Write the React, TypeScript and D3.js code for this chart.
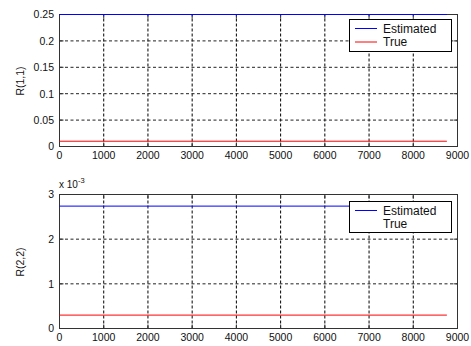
import React from "react";
import * as d3 from "d3";

const hours = [0, 8760];
const r11Estimated = [0.25, 0.25];
const r11True = [0.01, 0.01];
const r22Estimated = [2.74e-3, 2.74e-3];
const r22True = [0.3e-3, 0.3e-3];
const xTicks = [0, 1000, 2000, 3000, 4000, 5000, 6000, 7000, 8000, 9000];
const r11Ticks = [0, 0.05, 0.1, 0.15, 0.2, 0.25];
const r11TickLabels = ["0", "0.05", "0.1", "0.15", "0.2", "0.25"];
const r22Ticks = [0, 1e-3, 2e-3, 3e-3];
const r22TickLabels = ["0", "1", "2", "3"];
const legendLabels = ["Estimated", "True"];

const FONT = "'Liberation Sans', Arial, Helvetica, sans-serif";

type PanelProps = {
  top: number;
  bottom: number;
  yMax: number;
  yTicks: number[];
  yTickLabels: string[];
  est: number[];
  tru: number[];
  ylabel: string;
  legendY: number;
  showTrueSample: boolean;
  exponent?: boolean;
};

function Panel(p: PanelProps) {
  const x = d3.scaleLinear().domain([0, 9000]).range([59.5, 457.5]);
  const y = d3.scaleLinear().domain([0, p.yMax]).range([p.bottom + 0.5, p.top + 0.5]);
  const line = d3
    .line<number>()
    .x((_, i) => x(hours[i]))
    .y((v) => y(v));
  const x0 = x(0), x1 = x(9000), y0 = y(0), y1 = y(p.yMax);
  const lx = 349.5, lw = 102, lh = p.showTrueSample ? 32 : 31;
  const ly = p.legendY + 0.5;
  return (
    <g>
      {/* grid */}
      {xTicks.slice(1, -1).map((t) => (
        <line key={"gx" + t} x1={x(t)} x2={x(t)} y1={y0} y2={y1} stroke="#000" strokeWidth={1} strokeDasharray="3,2" />
      ))}
      {p.yTicks.slice(1, -1).map((t) => (
        <line key={"gy" + t} x1={x0} x2={x1} y1={y(t)} y2={y(t)} stroke="#222" strokeWidth={1} strokeDasharray="3,2.5" />
      ))}
      {/* frame */}
      <rect x={x0} y={y1} width={x1 - x0} height={y0 - y1} fill="none" stroke="#333" strokeWidth={1} />
      {/* ticks */}
      {xTicks.map((t) => (
        <g key={"tx" + t}>
          <line x1={x(t)} x2={x(t)} y1={y0} y2={y0 - 4} stroke="#333" />
          <line x1={x(t)} x2={x(t)} y1={y1} y2={y1 + 4} stroke="#333" />
          <text x={x(t)} y={p.bottom + 13} textAnchor="middle" fontSize={10.5} fontFamily={FONT} fill="#111">
            {t}
          </text>
        </g>
      ))}
      {p.yTicks.map((t, i) => (
        <g key={"ty" + t}>
          <line x1={x0} x2={x0 + 4} y1={y(t)} y2={y(t)} stroke="#333" />
          <line x1={x1} x2={x1 - 4} y1={y(t)} y2={y(t)} stroke="#333" />
          <text x={54} y={y(t) + 3.8} textAnchor="end" fontSize={10.5} fontFamily={FONT} fill="#111">
            {p.yTickLabels[i]}
          </text>
        </g>
      ))}
      {/* series */}
      <path d={line(p.est) || ""} fill="none" stroke="#0000ff" strokeWidth={1} />
      <path d={line(p.tru) || ""} fill="none" stroke="#ff0000" strokeWidth={1} />
      {/* y label */}
      <text
        transform={`translate(23.5,${(p.top + p.bottom) / 2 + 1}) rotate(-90)`}
        textAnchor="middle"
        fontSize={10.5}
        fontFamily={FONT}
        fill="#111"
      >
        {p.ylabel}
      </text>
      {p.exponent && (
        <text x={59} y={p.top - 6} fontSize={10} fontFamily={FONT} fill="#111">
          x 10
          <tspan dy={-5} fontSize={7.5}>-3</tspan>
        </text>
      )}
      {/* legend */}
      <rect x={lx} y={ly} width={lw} height={lh} fill="#fff" stroke="#000" strokeWidth={1} />
      <line x1={355} x2={377} y1={ly + 9} y2={ly + 9} stroke="#0000ff" />
      <text x={383} y={ly + (p.showTrueSample ? 13 : 13)} fontSize={12} fontFamily={FONT} fill="#111">
        {legendLabels[0]}
      </text>
      {p.showTrueSample && <line x1={355} x2={377} y1={ly + 22.5} y2={ly + 22.5} stroke="#ff0000" />}
      <text x={383} y={ly + 26.5} fontSize={12} fontFamily={FONT} fill="#111">
        {legendLabels[1]}
      </text>
    </g>
  );
}

export default function App() {
  return (
    <svg
      width={471}
      height={346}
      style={{ position: "fixed", left: 0, top: 0, background: "#fff" }}
      xmlns="http://www.w3.org/2000/svg"
    >
      <rect width={471} height={346} fill="#fff" />
      <Panel
        top={14}
        bottom={146}
        yMax={0.25}
        yTicks={r11Ticks}
        yTickLabels={r11TickLabels}
        est={r11Estimated}
        tru={r11True}
        ylabel="R(1,1)"
        legendY={19}
        showTrueSample={true}
      />
      <Panel
        top={194}
        bottom={328}
        yMax={3e-3}
        yTicks={r22Ticks}
        yTickLabels={r22TickLabels}
        est={r22Estimated}
        tru={r22True}
        ylabel="R(2,2)"
        legendY={201}
        showTrueSample={false}
        exponent={true}
      />
    </svg>
  );
}
